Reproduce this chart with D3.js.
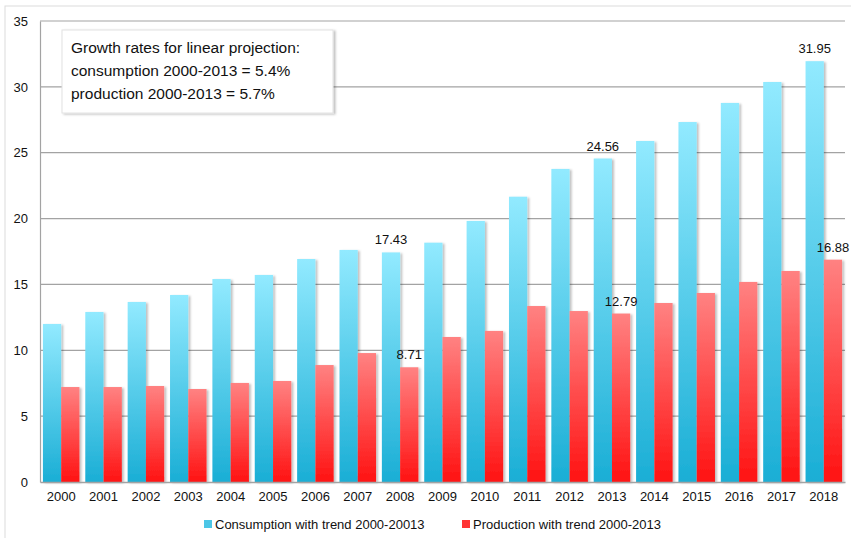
<!DOCTYPE html>
<html>
<head>
<meta charset="utf-8">
<script src="https://cdn.jsdelivr.net/npm/d3@7"></script>
<style>
  body { margin: 0; background: #fff; }
  svg { font-family: "Liberation Sans", Arial, sans-serif; }
</style>
</head>
<body>
<svg id="chart" width="851" height="538"></svg>
<script>
// data
let years = ["2000","2001","2002","2003","2004","2005","2006","2007","2008","2009",
             "2010","2011","2012","2013","2014","2015","2016","2017","2018"]
let consumption = [12.0, 12.91, 13.67, 14.2, 15.41, 15.72, 16.93, 17.62, 17.43, 18.17,
                   19.82, 21.66, 23.77, 24.56, 25.89, 27.33, 28.78, 30.37, 31.95]
let production = [7.21, 7.21, 7.29, 7.06, 7.52, 7.67, 8.88, 9.79, 8.71, 11.01,
                  11.47, 13.36, 12.98, 12.79, 13.59, 14.35, 15.19, 16.02, 16.88]
let yTicks = [0, 5, 10, 15, 20, 25, 30, 35]
let labelled = ["2008", "2013", "2018"]
let seriesNames = ["Consumption with trend 2000-20013", "Production with trend 2000-2013"]
let noteLines = ["Growth rates for linear projection:",
                 "consumption 2000-2013 = 5.4%",
                 "production 2000-2013 = 5.7%"]

let svg = d3.select("#chart")
let plotL = 40, plotR = 845, plotT = 21, plotB = 482

// outer frame
svg.append("rect")
  .attr("x", 5).attr("y", 6).attr("width", 900).attr("height", 600)
  .attr("fill", "none").attr("stroke", "#dcdcdc")

let defs = svg.append("defs")
let gc = defs.append("linearGradient").attr("id", "gcyan")
  .attr("x1", 0).attr("x2", 0).attr("y1", 0).attr("y2", 1)
gc.append("stop").attr("offset", "0%").attr("stop-color", "#92eaff")
gc.append("stop").attr("offset", "100%").attr("stop-color", "#1aaed5")
let gr = defs.append("linearGradient").attr("id", "gred")
  .attr("x1", 0).attr("x2", 0).attr("y1", 0).attr("y2", 1)
gr.append("stop").attr("offset", "0%").attr("stop-color", "#ff8282")
gr.append("stop").attr("offset", "100%").attr("stop-color", "#ff1212")

let sh = defs.append("filter").attr("id", "shadow")
  .attr("x", "-20%").attr("y", "-10%").attr("width", "150%").attr("height", "130%")
sh.append("feDropShadow").attr("dx", 2).attr("dy", 1).attr("stdDeviation", 1)
  .attr("flood-color", "#000").attr("flood-opacity", 0.25)

let x = d3.scaleBand().domain(years).range([plotL, plotR]).paddingInner(0).paddingOuter(0)
let inner = d3.scaleBand().domain([0, 1]).range([0, x.bandwidth()]).paddingInner(0).paddingOuter(0.16)
let y = d3.scaleLinear().domain([0, 35]).range([plotB, plotT])

// grid
svg.append("g").selectAll("line").data(yTicks.filter(d => d > 0)).join("line")
  .attr("x1", plotL).attr("x2", plotR)
  .attr("y1", d => y(d)).attr("y2", d => y(d))
  .attr("stroke", "#a3a3a3").attr("stroke-width", 1.2)

// y axis
let yAxis = d3.axisLeft(y).tickValues(yTicks).tickSize(0).tickPadding(12)
let yg = svg.append("g").attr("transform", `translate(${plotL},0)`).call(yAxis)
yg.select(".domain").attr("stroke", "#a3a3a3").attr("stroke-width", 1.2)
yg.selectAll("text").attr("font-size", 13).attr("fill", "#111")
  .attr("font-family", "Liberation Sans, Arial, sans-serif")

// bars
let groups = svg.append("g").selectAll("g").data(years).join("g")
  .attr("transform", d => `translate(${x(d)},0)`)
groups.append("rect")
  .attr("x", inner(0)).attr("width", inner.bandwidth())
  .attr("y", (d, i) => y(consumption[i]))
  .attr("height", (d, i) => y(0) - y(consumption[i]))
  .attr("fill", "url(#gcyan)").attr("filter", "url(#shadow)")
groups.append("rect")
  .attr("x", inner(1)).attr("width", inner.bandwidth())
  .attr("y", (d, i) => y(production[i]))
  .attr("height", (d, i) => y(0) - y(production[i]))
  .attr("fill", "url(#gred)").attr("filter", "url(#shadow)")

// x axis
let xAxis = d3.axisBottom(x).tickSize(0).tickPadding(10)
let xg = svg.append("g").attr("transform", `translate(0,${plotB})`).call(xAxis)
xg.select(".domain").attr("stroke", "#a3a3a3").attr("stroke-width", 1.5)
xg.selectAll("text").attr("font-size", 13).attr("fill", "#111")
  .attr("font-family", "Liberation Sans, Arial, sans-serif")

// value labels
labelled.forEach(yr => {
  let i = years.indexOf(yr)
  svg.append("text")
    .attr("x", x(yr) + inner(0) + inner.bandwidth() / 2)
    .attr("y", y(consumption[i]) - 8)
    .attr("text-anchor", "middle").attr("font-size", 13).attr("fill", "#111")
    .text(consumption[i].toFixed(2))
  svg.append("text")
    .attr("x", x(yr) + inner(1) + inner.bandwidth() / 2)
    .attr("y", y(production[i]) - 8)
    .attr("text-anchor", "middle").attr("font-size", 13).attr("fill", "#111")
    .text(production[i].toFixed(2))
})

// note box
svg.append("rect")
  .attr("x", 62).attr("y", 30).attr("width", 271).attr("height", 83)
  .attr("fill", "#fff").attr("stroke", "#e2e2e2")
  .attr("filter", "url(#shadow)")
svg.append("g").selectAll("text").data(noteLines).join("text")
  .attr("x", 71).attr("y", (d, i) => 53 + i * 23)
  .attr("font-size", 15.5).attr("fill", "#111")
  .text(d => d)

// legend
let legendX = [204, 462]
let lg = svg.append("g").selectAll("g").data(seriesNames).join("g")
  .attr("transform", (d, i) => `translate(${legendX[i]},520)`)
lg.append("rect").attr("width", 8).attr("height", 8)
  .attr("fill", (d, i) => i == 0 ? "#4cc6e6" : "#ff3434")
lg.append("text").attr("x", 11).attr("y", 8.5)
  .attr("font-size", 13).attr("fill", "#111")
  .text(d => d)
</script>
</body>
</html>
